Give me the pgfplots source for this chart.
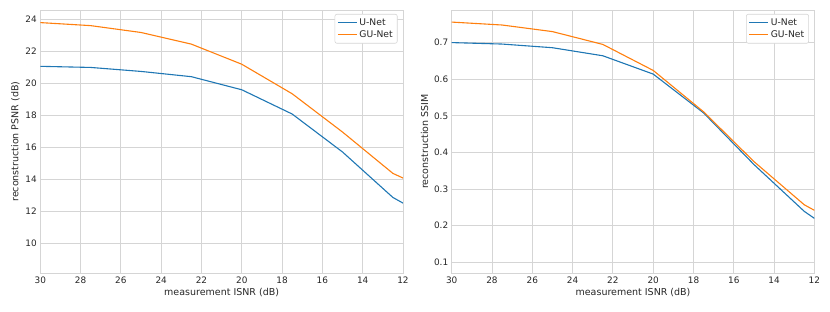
\documentclass[border=0pt]{standalone}
\usepackage{fontspec}
\setmainfont{DejaVu Sans}
\usepackage{pgfplots}
\pgfplotsset{compat=1.18}
\definecolor{c0}{HTML}{1F77B4}
\definecolor{c1}{HTML}{FF7F0E}
\definecolor{gridc}{HTML}{D5D5D5}
\definecolor{txt}{HTML}{262626}
\pgfplotsset{myax/.style={
 width=362.7pt, height=263.3pt, scale only axis,
 x dir=reverse, xmin=12, xmax=30, xtick={12,14,...,30},
 grid=major, major grid style={gridc, line width=0.9pt},
 axis line style={gridc, line width=0.9pt},
 tick style={draw=none},
 tick label style={font=\fontsize{8.9}{10}\selectfont, text=txt},
 /pgf/number format/assume math mode=true,
 label style={font=\fontsize{9.5}{11}\selectfont, text=txt},
 xlabel={measurement ISNR (dB)},
 xlabel style={yshift=2pt},
 ylabel style={yshift=-1pt},
 legend style={at={(0.985,0.985)}, anchor=north east, draw=gridc, rounded corners=2pt,
   font=\fontsize{9.2}{10}\selectfont, text=txt, fill=white, line width=0.6pt,
   inner sep=2.5pt, row sep=-0.5pt},
 legend image code/.code={\draw[#1, line width=1pt] (0pt,0pt) -- (19pt,0pt);},
 legend cell align=left,
 every axis plot/.append style={line width=1.1pt, no marks},
}}
\begin{document}
\begin{tikzpicture}
\useasboundingbox (0,0) rectangle (830pt,312pt);
\begin{axis}[myax, at={(40.3pt,38.7pt)}, anchor=south west,
  ymin=8.1, ymax=24.6, ytick={10,12,...,24},
  ylabel={reconstruction PSNR (dB)}]
\addplot[c0] coordinates {(30,21.07) (27.5,21.0) (25,20.75) (22.5,20.42) (20,19.6) (17.5,18.08) (15,15.7) (12.5,12.85) (12,12.5)};
\addlegendentry{U-Net}
\addplot[c1] coordinates {(30,23.81) (27.5,23.62) (25,23.19) (22.5,22.46) (20,21.2) (17.5,19.35) (15,16.95) (12.5,14.36) (12,14.07)};
\addlegendentry{GU-Net}
\end{axis}
\begin{axis}[myax, at={(451.7pt,38.7pt)}, anchor=south west,
  ymin=0.07, ymax=0.789, ytick={0.1,0.2,...,0.7},
  yticklabel style={/pgf/number format/fixed, /pgf/number format/precision=1, /pgf/number format/fixed zerofill},
  ylabel={reconstruction SSIM}]
\addplot[c0] coordinates {(30,0.700) (27.5,0.696) (25,0.686) (22.5,0.664) (20,0.614) (17.5,0.508) (15,0.367) (12.5,0.239) (12,0.220)};
\addlegendentry{U-Net}
\addplot[c1] coordinates {(30,0.756) (27.5,0.748) (25,0.730) (22.5,0.695) (20,0.624) (17.5,0.511) (15,0.375) (12.5,0.257) (12,0.242)};
\addlegendentry{GU-Net}
\end{axis}
\end{tikzpicture}
\end{document}
